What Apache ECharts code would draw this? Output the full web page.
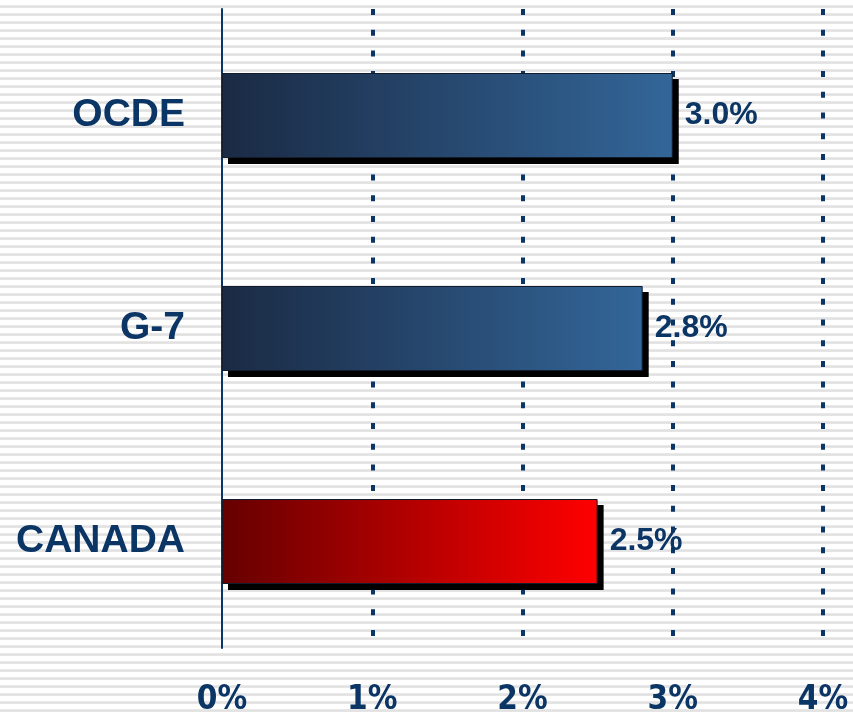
<!DOCTYPE html>
<html>
<head>
<meta charset="utf-8">
<script src="https://cdn.jsdelivr.net/npm/echarts@6/dist/echarts.min.js"></script>
<style>
html,body{margin:0;padding:0;}
#main{
	width:853px;height:717px;
	background:repeating-linear-gradient(to bottom,#ffffff 0px,#ffffff 5px,#ebebeb 5px,#dedede 7px,#ebebeb 8px);
}
</style>
</head>
<body>
<div id="main"></div>
<script>
// categories drawn top -> bottom, so list them reversed for the y axis
var regions=['CANADA','G-7','OCDE'];
var growth=[2.5,2.8,3.0];
var tickLabels=['0%','1%','2%','3%','4%'];

var navy='#0b3564';
var barH=85;

var blueFill=new echarts.graphic.LinearGradient(0,0,1,0,[
	{offset:0,color:'#1a2a44'},
	{offset:1,color:'#336699'}
]);
var redFill=new echarts.graphic.LinearGradient(0,0,1,0,[
	{offset:0,color:'#660000'},
	{offset:1,color:'#ff0000'}
]);

var barData=[];
var shadowData=[];
for(var i=0;i<regions.length;i++){
	barData.push({
		value:growth[i],
		itemStyle:{color:regions[i]=='CANADA'?redFill:blueFill}
	});
	shadowData.push([growth[i],i]);
}

var chart=echarts.init(document.getElementById('main'));
var option={
	backgroundColor:'transparent',
	animation:false,
	grid:{left:222,right:30,top:9,bottom:69},
	xAxis:{
		type:'value',
		min:0,
		max:4,
		interval:1,
		axisLine:{show:false},
		axisTick:{show:false},
		axisLabel:{
			margin:36,
			color:navy,
			fontSize:33,
			fontWeight:'bold',
			fontFamily:"'Liberation Sans Narrow','DejaVu Sans Condensed',sans-serif",
			formatter:function(v){return tickLabels[v];}
		},
		splitLine:{
			show:true,
			showMinLine:false,
			lineStyle:{color:navy,width:4,type:[6,14.7]}
		}
	},
	yAxis:{
		type:'category',
		data:regions,
		axisLine:{show:true,lineStyle:{color:navy,width:2}},
		axisTick:{show:false},
		axisLabel:{
			margin:37,
			color:navy,
			fontSize:39,
			fontWeight:'bold',
			fontFamily:"'Liberation Sans',Arial,sans-serif"
		},
		splitLine:{show:false}
	},
	series:[{
		// drop shadow behind each bar
		type:'custom',
		data:shadowData,
		encode:{x:0,y:1},
		z:2,
		silent:true,
		renderItem:function(params,api){
			var s=api.coord([0,api.value(1)]);
			var e=api.coord([api.value(0),api.value(1)]);
			return {
				type:'rect',
				shape:{x:s[0]+6,y:s[1]-barH/2+6,width:e[0]-s[0],height:barH},
				style:{fill:'#000'}
			};
		}
	},{
		type:'bar',
		data:barData,
		barWidth:barH,
		itemStyle:{
			borderColor:'#121c2c',
			borderWidth:1
		},
		label:{
			show:true,
			position:'right',
			distance:12,
			color:navy,
			fontSize:32,
			fontWeight:'bold',
			fontFamily:"'Liberation Sans',Arial,sans-serif",
			formatter:function(p){return p.value.toFixed(1)+'%';}
		},
		z:3
	}]
};
chart.setOption(option);
window.onresize=chart.resize;
</script>
</body>
</html>
